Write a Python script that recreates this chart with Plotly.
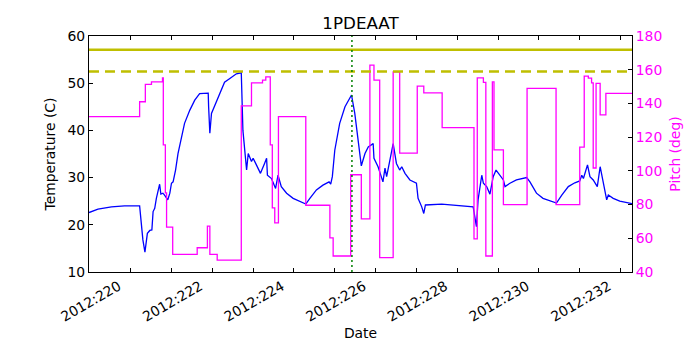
import plotly.graph_objects as go

# Day of year 2012 (fractional) and temperature of 1PDEAAT
temp_day = [218.98, 219.20, 219.53, 219.85, 220.22, 220.245, 220.30, 220.35, 220.41, 220.47,
            220.52, 220.55, 220.59, 220.63, 220.69, 220.71, 220.74, 220.79, 220.83, 220.91,
            220.96, 221.00, 221.04, 221.10, 221.16, 221.24, 221.32, 221.45, 221.57, 221.69,
            221.90, 221.91, 221.94, 221.98, 222.06, 222.14, 222.30, 222.43, 222.59, 222.71,
            222.75, 222.84, 222.88, 222.96, 223.00, 223.08, 223.18, 223.28, 223.33, 223.35,
            223.45, 223.55, 223.61, 223.69, 223.82, 223.98, 224.14, 224.29, 224.39, 224.55,
            224.71, 224.86, 224.90, 224.94, 225.00, 225.12, 225.25, 225.41, 225.49, 225.57,
            225.65, 225.74, 225.82, 225.94, 225.96, 226.06, 226.10, 226.18, 226.23, 226.27,
            226.35, 226.43, 226.51, 226.59, 226.64, 226.72, 226.84, 227.00, 227.04, 227.13,
            227.18, 227.22, 227.62, 227.94, 228.39, 228.43, 228.47, 228.51, 228.55, 228.60,
            228.64, 228.72, 228.80, 228.88, 228.95, 229.04, 229.13, 229.17, 229.29, 229.45,
            229.70, 229.78, 229.94, 230.10, 230.27, 230.43, 230.56, 230.72, 230.88, 231.00,
            231.05, 231.09, 231.19, 231.25, 231.33, 231.43, 231.50, 231.58, 231.66, 231.70,
            231.82, 231.98, 232.19, 232.28]
temp_c = [22.6, 23.3, 23.8, 24.0, 24.0, 21.7, 16.8, 14.2, 18.2, 18.8,
          18.9, 22.8, 23.5, 25.6, 27.7, 28.6, 26.5, 26.7, 26.3, 25.3,
          26.7, 28.8, 29.1, 31.6, 35.1, 38.6, 41.5, 44.3, 46.4, 47.8,
          47.9, 45.0, 39.4, 43.6, 45.3, 47.1, 50.2, 51.0, 52.0, 52.2,
          40.0, 31.6, 35.1, 33.4, 34.1, 32.7, 30.9, 33.0, 34.1, 30.5,
          29.8, 27.7, 30.5, 28.1, 26.7, 25.6, 24.9, 24.4, 25.6, 27.4,
          28.4, 29.1, 28.6, 30.2, 35.8, 41.5, 45.0, 47.5, 43.6, 38.0,
          32.5, 35.1, 36.5, 37.2, 34.1, 32.3, 31.2, 29.1, 32.0, 30.2,
          33.7, 37.2, 33.0, 31.6, 32.3, 30.9, 29.5, 28.8, 25.6, 23.8,
          22.4, 24.2, 24.4, 24.2, 23.8, 21.7, 19.6, 25.3, 28.1, 30.5,
          28.8, 28.1, 26.5, 30.2, 31.6, 30.5, 29.5, 28.1, 28.8, 29.5,
          30.0, 29.1, 26.7, 25.6, 25.0, 24.6, 26.3, 28.1, 28.9, 29.3,
          30.5, 29.8, 32.7, 30.2, 29.5, 28.1, 32.3, 28.8, 25.3, 26.3,
          25.6, 25.0, 24.6, 24.5]

# Pitch angle (step changes)
pitch_day = [218.98, 220.22, 220.36, 220.51, 220.78, 220.80, 220.85, 220.88, 221.03, 221.63,
             221.88, 221.94, 222.12, 222.71, 222.96, 223.23, 223.31, 223.42, 223.47, 223.53,
             223.62, 224.29, 224.88, 224.96, 225.39, 225.65, 225.86, 225.96, 226.10, 226.43,
             226.59, 227.02, 227.18, 227.63, 228.41, 228.49, 228.64, 228.70, 228.86, 228.90,
             229.13, 229.71, 230.42, 231.00, 231.06, 231.11, 231.21, 231.29, 231.33, 231.40,
             231.50, 231.64, 232.28]
pitch_deg = [132.2, 141.0, 151.3, 152.8, 155.2, 115.4, 86.9, 66.6, 50.5, 54.4,
             67.2, 50.5, 47.1, 138.5, 152.2, 153.8, 155.8, 115.4, 78.0, 69.2,
             132.2, 79.6, 60.3, 49.5, 97.7, 71.5, 162.7, 153.8, 48.5, 158.7,
             110.5, 150.3, 146.3, 125.7, 59.7, 155.2, 152.5, 49.5, 152.8, 112.5,
             80.0, 148.9, 80.0, 114.1, 114.1, 156.2, 155.0, 152.2, 101.7, 151.9,
             133.2, 146.0, 146.0]

# ticks every day, labels every other day
tick_days = list(range(219, 233))
tick_text = ["2012:%d" % d if d % 2 == 0 else "" for d in tick_days]

temp_limit = 57.1
temp_planning_limit = 52.5
event_day = 225.42

fig = go.Figure()

fig.add_trace(go.Scatter(x=temp_day, y=temp_c, mode="lines",
                         line=dict(color="blue", width=1.3), name="Temperature"))
fig.add_trace(go.Scatter(x=pitch_day, y=pitch_deg, mode="lines", yaxis="y2",
                         line=dict(color="magenta", width=1.3, shape="hv"), name="Pitch"))

fig.add_hline(y=temp_limit, line=dict(color="#bfbf00", width=2.5))
fig.add_hline(y=temp_planning_limit, line=dict(color="#bfbf00", width=2.5, dash="10px,6px"))
fig.add_vline(x=event_day, line=dict(color="green", width=1.5, dash="2px,3px"))

font = "DejaVu Sans"
fs = 13.9
# the page body adds an 8px offset, so margins are trimmed on the left/top
fig.update_layout(
    width=700, height=350,
    margin=dict(l=81, r=76, t=28, b=86),
    paper_bgcolor="white", plot_bgcolor="white",
    showlegend=False,
    font=dict(family=font, size=fs, color="black"),
    title=dict(text="1PDEAAT", x=(81 + 624) / 2 / 700, xanchor="center",
               y=0.94, yanchor="bottom", font=dict(size=16.7)),
    xaxis=dict(range=[218.98, 232.28], automargin=False,
               tickvals=tick_days, ticktext=tick_text, ticklabelshift=-12,
               tickangle=-30, ticks="inside", ticklen=4, tickcolor="black",
               tickfont=dict(size=fs),
               showline=True, linecolor="black", linewidth=1, mirror="ticks",
               showgrid=False, zeroline=False,
               title=dict(text="Date", standoff=4, font=dict(size=fs))),
    yaxis=dict(range=[10, 60], dtick=10, ticks="inside", ticklen=4, tickcolor="black",
               automargin=False, tickfont=dict(size=fs),
               showline=True, linecolor="black", linewidth=1,
               showgrid=False, zeroline=False,
               title=dict(text="Temperature (C)", standoff=8, font=dict(size=fs))),
    yaxis2=dict(range=[40, 180], dtick=20, overlaying="y", side="right",
                ticks="inside", ticklen=4, tickcolor="black", automargin=False,
                showline=True, linecolor="black", linewidth=1,
                showgrid=False, zeroline=False,
                tickfont=dict(color="magenta", size=fs),
                title=dict(text="Pitch (deg)", standoff=8,
                           font=dict(color="magenta", size=fs))),
)

fig.write_html("out.html")
